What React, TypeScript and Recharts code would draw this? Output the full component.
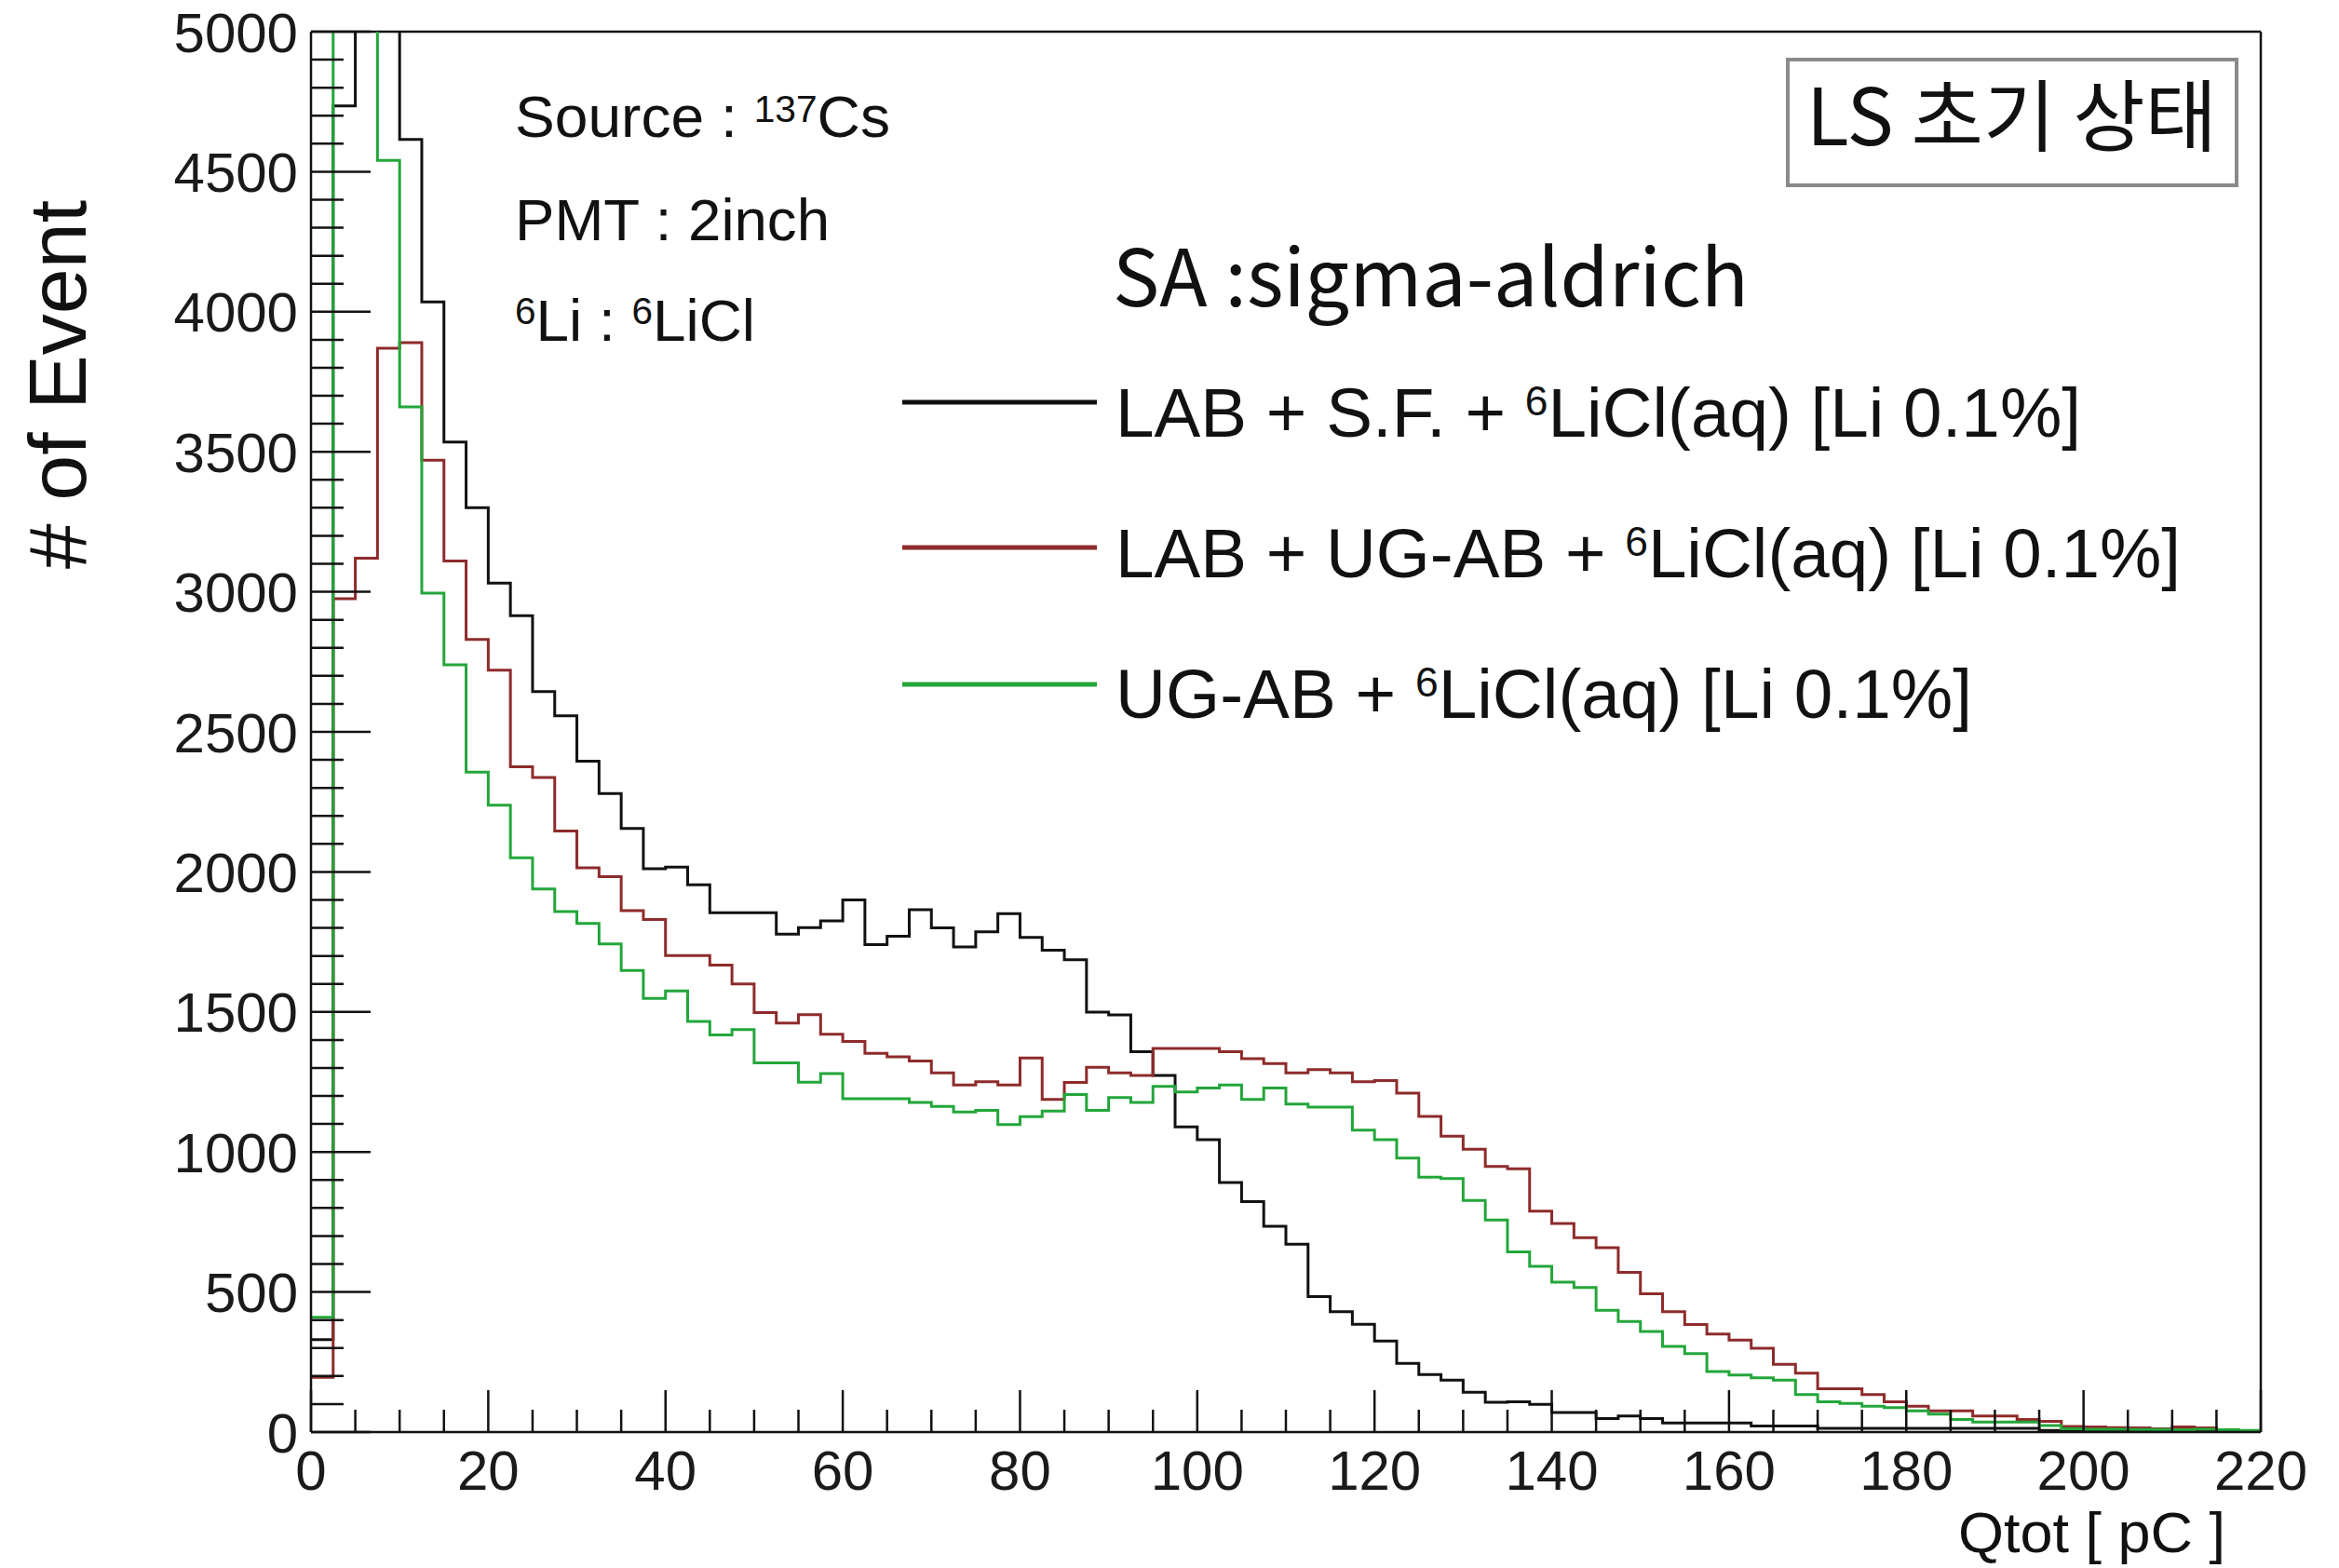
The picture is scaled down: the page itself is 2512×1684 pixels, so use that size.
import React from "react";
import { ComposedChart, Line, XAxis, YAxis, ReferenceLine } from "recharts";

// histogram binning (Qtot, pC)
const BIN_WIDTH = 2.5;
const X_MAX = 220;
const Y_MAX = 5000;

const xLabels = [0, 20, 40, 60, 80, 100, 120, 140, 160, 180, 200, 220];
const yLabels = [0, 500, 1000, 1500, 2000, 2500, 3000, 3500, 4000, 4500, 5000];

// counts per 2.5 pC bin, 0..220 pC (88 bins)
const lsfCounts = [
  330, 4735, 5600, 5400, 4615, 4035, 3535, 3300, 3031, 2915,
  2644, 2557, 2395, 2280, 2155, 2011, 2017, 1954, 1854, 1854,
  1854, 1778, 1801, 1825, 1900, 1740, 1770, 1865, 1800, 1732,
  1786, 1851, 1766, 1720, 1686, 1499, 1489, 1358, 1273, 1090,
  1044, 891, 823, 735, 671, 484, 430, 385, 325, 245,
  205, 185, 142, 106, 108, 99, 70, 70, 48, 57,
  48, 32, 32, 32, 32, 22, 22, 22, 13, 13,
  13, 13, 13, 13, 13, 13, 13, 13, 6, 5,
  4, 4, 3, 3, 2, 2, 1, 1,
];

const labUgCounts = [
  195, 2975, 3120, 3870, 3890, 3470, 3110, 2830, 2720, 2375,
  2337, 2146, 2015, 1983, 1862, 1830, 1701, 1701, 1667, 1600,
  1498, 1460, 1490, 1420, 1395, 1352, 1340, 1325, 1282, 1239,
  1251, 1239, 1336, 1188, 1248, 1302, 1282, 1273, 1370, 1370,
  1370, 1358, 1333, 1316, 1282, 1294, 1282, 1251, 1255, 1210,
  1127, 1056, 1010, 948, 940, 789, 745, 694, 658, 570,
  494, 430, 384, 350, 328, 299, 242, 210, 155, 155,
  134, 108, 92, 76, 76, 57, 57, 45, 38, 20,
  18, 16, 15, 12, 18, 15, 8, 4,
];

const ugCounts = [
  410, 5800, 5600, 4540, 3660, 2995, 2739, 2356, 2238, 2050,
  1939, 1858, 1816, 1743, 1648, 1548, 1575, 1466, 1418, 1437,
  1318, 1318, 1249, 1280, 1190, 1190, 1190, 1177, 1163, 1143,
  1149, 1098, 1126, 1146, 1205, 1149, 1194, 1177, 1234, 1214,
  1228, 1239, 1188, 1228, 1171, 1160, 1160, 1078, 1044, 978,
  910, 905, 827, 757, 643, 592, 535, 516, 435, 395,
  359, 306, 280, 216, 204, 194, 185, 134, 108, 102,
  92, 87, 76, 64, 45, 36, 36, 36, 23, 12,
  10, 10, 9, 9, 8, 10, 8, 6,
];

// step data: one row per bin low edge, plus closing row at the upper edge
const data = lsfCounts.map((_, i) => ({
  q: i * BIN_WIDTH,
  lsf: lsfCounts[i],
  labUg: labUgCounts[i],
  ug: ugCounts[i],
}));
data.push({
  q: X_MAX,
  lsf: lsfCounts[lsfCounts.length - 1],
  labUg: labUgCounts[labUgCounts.length - 1],
  ug: ugCounts[ugCounts.length - 1],
});

const xTicks: number[] = [];
for (let v = 0; v <= X_MAX; v += 5) xTicks.push(v);
const yTicks: number[] = [];
for (let v = 0; v <= Y_MAX; v += 100) yTicks.push(v);

const W = 2512;
const H = 1684;
const PLOT_LEFT = 334;
const PLOT_TOP = 34;
const PLOT_RIGHT = 2428;
const PLOT_BOTTOM = 1538;

const FONT = "'Liberation Sans', Arial, sans-serif";
const KFONT = "'Noto Sans CJK KR', 'Noto Sans', sans-serif";
const INK = "#111";

const BLACK = "#111111";
const RED = "#8e2b2b";
const GREEN = "#23a63a";

const YTick = (props: any) => {
  const { y, payload } = props;
  const v = payload.value;
  const major = yLabels.includes(v);
  return (
    <g>
      <line x1={PLOT_LEFT} x2={PLOT_LEFT + (major ? 64 : 35)} y1={y} y2={y} stroke={INK} strokeWidth={2.5} />
      {major ? (
        <text x={PLOT_LEFT - 14} y={y} dy="0.36em" textAnchor="end" fontSize={60} fontFamily={FONT} fill="#1a1a1a">
          {v}
        </text>
      ) : null}
    </g>
  );
};

const XTick = (props: any) => {
  const { x, payload } = props;
  const v = payload.value;
  const major = xLabels.includes(v);
  return (
    <g>
      <line x1={x} x2={x} y1={PLOT_BOTTOM} y2={PLOT_BOTTOM - (major ? 45 : 24)} stroke={INK} strokeWidth={2.5} />
      {major ? (
        <text x={x} y={PLOT_BOTTOM + 62} textAnchor="middle" fontSize={60} fontFamily={FONT} fill="#1a1a1a">
          {v}
        </text>
      ) : null}
    </g>
  );
};

const Annotations = () => (
  <svg width={W} height={H} style={{ position: "absolute", left: 0, top: 0, pointerEvents: "none" }}>
    {/* y axis title */}
    <text
      x={0}
      y={0}
      transform="translate(92, 413) rotate(-90)"
      textAnchor="middle"
      fontSize={88}
      fontFamily={FONT}
      fill={INK}
    >
      # of Event
    </text>

    {/* run conditions */}
    <g fontFamily={FONT} fill={INK} fontSize={63}>
      <text x={553} y={147} textLength={403} lengthAdjust="spacingAndGlyphs">
        Source : <tspan fontSize={40} dy={-16}>137</tspan>
        <tspan dy={16}>Cs</tspan>
      </text>
      <text x={553} y={258} textLength={338} lengthAdjust="spacingAndGlyphs">
        PMT : 2inch
      </text>
      <text x={553} y={366} textLength={258} lengthAdjust="spacingAndGlyphs">
        <tspan fontSize={40} dy={-18}>6</tspan>
        <tspan dy={18}>Li : </tspan>
        <tspan fontSize={40} dy={-18}>6</tspan>
        <tspan dy={18}>LiCl</tspan>
      </text>
    </g>

    <text x={1195} y={329} fontSize={85} fontFamily={KFONT} fill={INK} textLength={683} lengthAdjust="spacingAndGlyphs">
      SA :sigma-aldrich
    </text>

    {/* legend */}
    <line x1={969} x2={1178} y1={432} y2={432} stroke={BLACK} strokeWidth={5} />
    <line x1={969} x2={1178} y1={588} y2={588} stroke={RED} strokeWidth={5} />
    <line x1={969} x2={1178} y1={735} y2={735} stroke={GREEN} strokeWidth={5} />
    <g fontFamily={FONT} fill={INK} fontSize={74}>
      <text x={1198} y={469} textLength={1037} lengthAdjust="spacingAndGlyphs">
        LAB + S.F. + <tspan fontSize={44} dy={-23}>6</tspan>
        <tspan dy={23}>LiCl(aq) [Li 0.1%]</tspan>
      </text>
      <text x={1198} y={620} textLength={1144} lengthAdjust="spacingAndGlyphs">
        LAB + UG-AB + <tspan fontSize={44} dy={-23}>6</tspan>
        <tspan dy={23}>LiCl(aq) [Li 0.1%]</tspan>
      </text>
      <text x={1198} y={771} textLength={920} lengthAdjust="spacingAndGlyphs">
        UG-AB + <tspan fontSize={44} dy={-23}>6</tspan>
        <tspan dy={23}>LiCl(aq) [Li 0.1%]</tspan>
      </text>
    </g>

    {/* state box */}
    <rect x={1920} y={64} width={482} height={135} fill="#fff" stroke="#8a8a8a" strokeWidth={4} />
    <text x={1940} y={156} fontSize={84} fontFamily={KFONT} fill={INK} textLength={441} lengthAdjust="spacingAndGlyphs">
      LS 초기 상태
    </text>

    {/* x axis title */}
    <text x={2390} y={1667} textAnchor="end" fontSize={62} fontFamily={FONT} fill={INK} textLength={287} lengthAdjust="spacingAndGlyphs">
      Qtot [ pC ]
    </text>
  </svg>
);

const App: React.FC = () => (
  <div style={{ position: "absolute", left: 0, top: 0, width: W, height: H, background: "#fff" }}>
    <ComposedChart
      width={W}
      height={H}
      data={data}
      margin={{ top: PLOT_TOP, right: W - PLOT_RIGHT, left: 0, bottom: 0 }}
    >
      <XAxis
        dataKey="q"
        type="number"
        domain={[0, X_MAX]}
        allowDataOverflow
        ticks={xTicks}
        interval={0}
        height={H - PLOT_BOTTOM}
        tickLine={false}
        tickSize={0}
        tickMargin={0}
        tick={(p: any) => <XTick {...p} />}
        axisLine={{ stroke: INK, strokeWidth: 2.5 }}
      />
      <YAxis
        type="number"
        domain={[0, Y_MAX]}
        allowDataOverflow
        ticks={yTicks}
        interval={0}
        width={PLOT_LEFT}
        tickLine={false}
        tickSize={0}
        tickMargin={0}
        tick={(p: any) => <YTick {...p} />}
        axisLine={{ stroke: INK, strokeWidth: 2.5 }}
      />
      <ReferenceLine y={Y_MAX} stroke={INK} strokeWidth={2.5} />
      <ReferenceLine x={X_MAX} stroke={INK} strokeWidth={2.5} />
      <Line type="stepAfter" dataKey="lsf" stroke={BLACK} strokeWidth={3} dot={false} isAnimationActive={false} />
      <Line type="stepAfter" dataKey="labUg" stroke={RED} strokeWidth={3} dot={false} isAnimationActive={false} />
      <Line type="stepAfter" dataKey="ug" stroke={GREEN} strokeWidth={3} dot={false} isAnimationActive={false} />
    </ComposedChart>
    <Annotations />
  </div>
);

export default App;
